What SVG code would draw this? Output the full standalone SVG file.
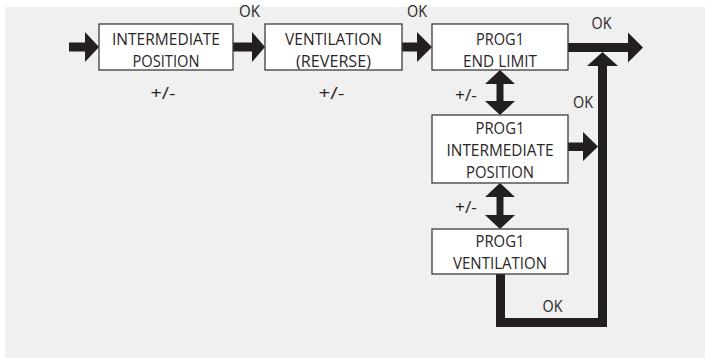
<svg xmlns="http://www.w3.org/2000/svg" width="705" height="359" viewBox="0 0 705 359">
<style>
.box{fill:#ffffff;stroke:#3c3c3c;stroke-width:1.3}
.t{font-family:"Open Sans","Liberation Sans",sans-serif;font-size:15.5px;fill:#2a2627;text-anchor:middle}
.l{font-family:"Open Sans","Liberation Sans",sans-serif;font-size:15.5px;fill:#2a2627;text-anchor:middle}
.a{fill:#231f20}
.s{fill:none;stroke:#231f20;stroke-width:9;stroke-linejoin:miter}
</style>
<rect x="5" y="7" width="700" height="351" fill="#f0f0f0"/>
<g id="connectors">
<polygon class="a" points="69,42.5 85,42.5 85,32 99,47 85,62 85,51.5 69,51.5"/>
<polygon class="a" points="233,42.5 252,42.5 252,32 265,47 252,62 252,51.5 233,51.5"/>
<polygon class="a" points="402,42.5 417,42.5 417,32 432,47 417,62 417,51.5 402,51.5"/>
<polygon class="a" points="568,43 628,43 628,32.5 643,47.5 628,62.5 628,52 568,52"/>
<polyline class="s" points="500.5,274 500.5,322.5 602.5,322.5 602.5,64"/>
<polygon class="a" points="587,66 602.5,52 618,66"/>
<polygon class="a" points="568,142.5 583,142.5 583,132 598,146.5 583,161 583,151 568,151"/>
<polygon class="a" points="500,70 515,84 503.5,84 503.5,101 515,101 500,115 485,101 496.5,101 496.5,84 485,84"/>
<polygon class="a" points="500,183 515,197 503.5,197 503.5,215 515,215 500,229 485,215 496.5,215 496.5,197 485,197"/>
<text class="l" x="249.5" y="17" textLength="21" lengthAdjust="spacingAndGlyphs">OK</text>
<text class="l" x="417" y="17" textLength="20" lengthAdjust="spacingAndGlyphs">OK</text>
<text class="l" x="601.5" y="28.5" textLength="20" lengthAdjust="spacingAndGlyphs">OK</text>
<text class="l" x="583" y="108" textLength="20" lengthAdjust="spacingAndGlyphs">OK</text>
<text class="l" x="552.5" y="311.5" textLength="20" lengthAdjust="spacingAndGlyphs">OK</text>
<text class="l" x="163" y="99" textLength="25" lengthAdjust="spacingAndGlyphs">+/-</text>
<text class="l" x="331.5" y="99" textLength="26" lengthAdjust="spacingAndGlyphs">+/-</text>
<text class="l" x="466" y="101" textLength="22" lengthAdjust="spacingAndGlyphs">+/-</text>
<text class="l" x="466" y="213" textLength="22" lengthAdjust="spacingAndGlyphs">+/-</text>
</g>
<g id="box1">
<rect class="box" x="99" y="24" width="134" height="46"/>
<text class="t" x="166" y="45" textLength="108" lengthAdjust="spacingAndGlyphs">INTERMEDIATE</text>
<text class="t" x="166" y="66.5" textLength="67" lengthAdjust="spacingAndGlyphs">POSITION</text>
</g>
<g id="box2">
<rect class="box" x="265" y="24" width="137" height="46"/>
<text class="t" x="333.5" y="45" textLength="97" lengthAdjust="spacingAndGlyphs">VENTILATION</text>
<text class="t" x="333.5" y="66.5" textLength="75" lengthAdjust="spacingAndGlyphs">(REVERSE)</text>
</g>
<g id="box3">
<rect class="box" x="432" y="24" width="136" height="46"/>
<text class="t" x="500" y="45" textLength="48" lengthAdjust="spacingAndGlyphs">PROG1</text>
<text class="t" x="500" y="66.5" textLength="74" lengthAdjust="spacingAndGlyphs">END LIMIT</text>
</g>
<g id="box4">
<rect class="box" x="432" y="115" width="136" height="68"/>
<text class="t" x="500" y="134" textLength="49" lengthAdjust="spacingAndGlyphs">PROG1</text>
<text class="t" x="500" y="156" textLength="107" lengthAdjust="spacingAndGlyphs">INTERMEDIATE</text>
<text class="t" x="500" y="178" textLength="68" lengthAdjust="spacingAndGlyphs">POSITION</text>
</g>
<g id="box5">
<rect class="box" x="432" y="229" width="136" height="45"/>
<text class="t" x="500" y="247" textLength="49" lengthAdjust="spacingAndGlyphs">PROG1</text>
<text class="t" x="500" y="268.5" textLength="94" lengthAdjust="spacingAndGlyphs">VENTILATION</text>
</g>
</svg>
